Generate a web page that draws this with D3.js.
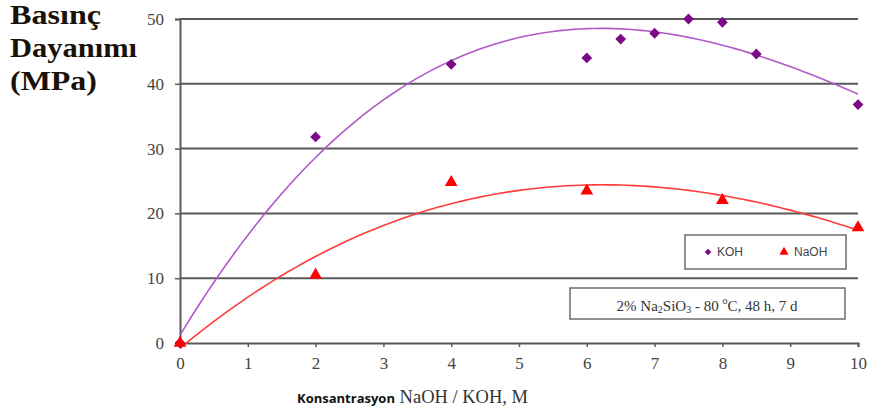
<!DOCTYPE html>
<html>
<head>
<meta charset="utf-8">
<script src="https://cdn.jsdelivr.net/npm/d3@7"></script>
<style>
  body { margin: 0; background: #fff; }
</style>
</head>
<body>
<script>
// measured points
const kohX = [0, 2, 4, 6, 6.5, 7, 7.5, 8, 8.5, 10];
const kohY = [0, 31.8, 43.0, 44.0, 46.9, 47.8, 50.0, 49.5, 44.6, 36.8];
const naohX = [0, 2, 4, 6, 8, 10];
const naohY = [0, 10.5, 24.8, 23.5, 22.0, 17.8];
const xTicks = [0, 1, 2, 3, 4, 5, 6, 7, 8, 9, 10];
const yTicks = [0, 10, 20, 30, 40, 50];
const titleLines = ["Basınç", "Dayanımı", "(MPa)"];

const width = 875, height = 417;
const x = d3.scaleLinear().domain([0, 10]).range([180, 858]);
const y = d3.scaleLinear().domain([0, 50]).range([343, 19]);

// least squares polynomial trend line, like a spreadsheet trendline
function polyfit(xs, ys, order) {
  const n = order + 1;
  const A = Array.from({length: n}, () => new Array(n + 1).fill(0));
  xs.forEach((xv, k) => {
    for (let i = 0; i < n; i++) {
      for (let j = 0; j < n; j++) A[i][j] += Math.pow(xv, i + j);
      A[i][n] += ys[k] * Math.pow(xv, i);
    }
  });
  for (let i = 0; i < n; i++) {
    let p = i;
    for (let r = i + 1; r < n; r++) if (Math.abs(A[r][i]) > Math.abs(A[p][i])) p = r;
    [A[i], A[p]] = [A[p], A[i]];
    for (let r = 0; r < n; r++) {
      if (r === i) continue;
      const f = A[r][i] / A[i][i];
      for (let c = i; c <= n; c++) A[r][c] -= f * A[i][c];
    }
  }
  const coef = A.map((row, i) => row[n] / row[i]);
  return t => coef.reduce((s, c, i) => s + c * Math.pow(t, i), 0);
}

const svg = d3.select("body").append("svg")
    .attr("width", width)
    .attr("height", height);

// grid lines
svg.append("g")
    .selectAll("line")
    .data(yTicks.slice(1))
    .join("line")
    .attr("x1", x(0)).attr("x2", x(10))
    .attr("y1", d => y(d)).attr("y2", d => y(d))
    .attr("stroke", "#5a5a5a")
    .attr("stroke-width", 2);

// y axis
const yAxis = svg.append("g")
    .attr("transform", `translate(${x(0)},0)`)
    .call(d3.axisLeft(y).tickValues(yTicks).tickSize(5).tickPadding(11));
yAxis.select(".domain").attr("stroke", "#5a5a5a").attr("stroke-width", 2);
yAxis.selectAll(".tick line").attr("stroke", "#5a5a5a").attr("stroke-width", 1.5);
yAxis.selectAll("text")
    .attr("font-family", "Liberation Serif, serif")
    .attr("font-size", 17)
    .attr("fill", "#444");

// x axis
const xAxis = svg.append("g")
    .attr("transform", `translate(0,${y(0)})`)
    .call(d3.axisBottom(x).tickValues(xTicks).tickSize(4).tickPadding(10));
xAxis.select(".domain").attr("stroke", "#5a5a5a").attr("stroke-width", 2);
xAxis.selectAll(".tick line").attr("stroke", "#5a5a5a").attr("stroke-width", 1.5);
xAxis.selectAll("text")
    .attr("font-family", "Liberation Serif, serif")
    .attr("font-size", 17)
    .attr("fill", "#444");

// trend lines
const kohFit = polyfit(kohX, kohY, 3);
const naohFit = polyfit(naohX, naohY, 3);
const line = f => d3.line()
    .x(d => x(d))
    .y(d => y(f(d)))(d3.range(0, 10.001, 0.1));

svg.append("path")
    .attr("d", line(kohFit))
    .attr("fill", "none")
    .attr("stroke", "#b05ac8")
    .attr("stroke-width", 1.6);
svg.append("path")
    .attr("d", line(naohFit))
    .attr("fill", "none")
    .attr("stroke", "#ff3b3b")
    .attr("stroke-width", 1.6);

// markers
svg.append("g")
    .selectAll("path")
    .data(kohX.map((d, i) => [d, kohY[i]]))
    .join("path")
    .attr("transform", d => `translate(${x(d[0])},${y(d[1])}) rotate(45)`)
    .attr("d", d3.symbol(d3.symbolSquare, 58))
    .attr("fill", "#7a0a86");
svg.append("g")
    .selectAll("path")
    .data(naohX.map((d, i) => [d, naohY[i]]))
    .join("path")
    .attr("transform", d => `translate(${x(d[0])},${y(d[1])})`)
    .attr("d", d3.symbol(d3.symbolTriangle, 70))
    .attr("fill", "#ff0000");

// legend
const legend = svg.append("g");
legend.append("rect")
    .attr("x", 685).attr("y", 235)
    .attr("width", 161).attr("height", 34)
    .attr("fill", "#fff")
    .attr("stroke", "#555")
    .attr("stroke-width", 1.3);
legend.append("path")
    .attr("transform", "translate(708,252) rotate(45)")
    .attr("d", d3.symbol(d3.symbolSquare, 22))
    .attr("fill", "#7a0a86");
legend.append("text")
    .attr("x", 717).attr("y", 256)
    .attr("font-family", "Liberation Sans, Arial, sans-serif")
    .attr("font-size", 12)
    .attr("fill", "#444")
    .text("KOH");
legend.append("path")
    .attr("transform", "translate(784,252)")
    .attr("d", d3.symbol(d3.symbolTriangle, 36))
    .attr("fill", "#ff0000");
legend.append("text")
    .attr("x", 794).attr("y", 256)
    .attr("font-family", "Liberation Sans, Arial, sans-serif")
    .attr("font-size", 12)
    .attr("fill", "#444")
    .text("NaOH");

// condition note
svg.append("rect")
    .attr("x", 570).attr("y", 288)
    .attr("width", 275).attr("height", 31)
    .attr("fill", "#fff")
    .attr("stroke", "#555")
    .attr("stroke-width", 1.3);
const note = svg.append("text")
    .attr("x", 707).attr("y", 311)
    .attr("text-anchor", "middle")
    .attr("font-family", "Liberation Serif, serif")
    .attr("font-size", 15)
    .attr("fill", "#333");
note.append("tspan").text("2% Na");
note.append("tspan").attr("font-size", 10).attr("dy", 2).text("2");
note.append("tspan").attr("dy", -2).text("SiO");
note.append("tspan").attr("font-size", 10).attr("dy", 2).text("3");
note.append("tspan").attr("dy", -2).text("  - 80 ");
note.append("tspan").attr("font-size", 10).attr("dy", -7).text("o");
note.append("tspan").attr("dy", 7).text("C, 48 h, 7 d");

// y title
const titleWidths = [91, 127, 87];
const yTitle = svg.append("text")
    .attr("font-family", "Liberation Serif, serif")
    .attr("font-weight", "bold")
    .attr("font-size", 27)
    .attr("fill", "#1a1208");
titleLines.forEach((t, i) => {
  yTitle.append("tspan")
      .attr("x", 10).attr("y", 24 + i * 33)
      .attr("textLength", titleWidths[i])
      .attr("lengthAdjust", "spacingAndGlyphs")
      .text(t);
});

// x title
const xTitle = svg.append("text")
    .attr("x", 297).attr("y", 403);
xTitle.append("tspan")
    .attr("font-family", "Open Sans, sans-serif")
    .attr("font-weight", "bold")
    .attr("font-size", 13)
    .attr("fill", "#111")
    .text("Konsantrasyon");
xTitle.append("tspan")
    .attr("font-family", "Liberation Serif, serif")
    .attr("font-size", 18.5)
    .attr("fill", "#333")
    .text(" NaOH / KOH, M");
</script>
</body>
</html>
